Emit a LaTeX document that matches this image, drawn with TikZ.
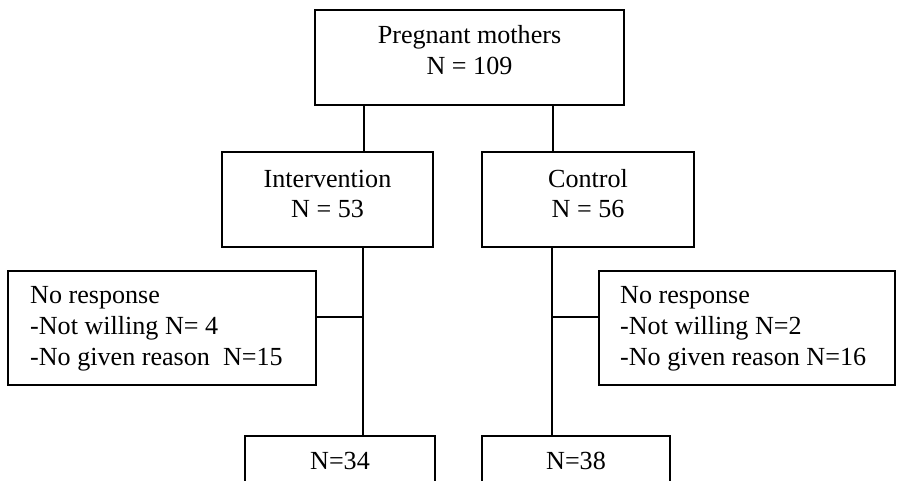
\documentclass[tikz,border=0pt]{standalone}
\usepackage{fontspec}
\setmainfont{Liberation Serif}
\begin{document}
\begin{tikzpicture}[x=1pt,y=-1pt,
  box/.style={draw, line width=2.6pt, rectangle, inner sep=0pt},
  lbl/.style={inner sep=0pt, font=\fontsize{26.1}{31}\selectfont},
  conn/.style={line width=2.6pt}]
\clip (0,0) rectangle (898,480);
% boxes
\node[box, minimum width=309pt, minimum height=95pt] (top) at (469.5,57.5) {};
\node[box, minimum width=211pt, minimum height=95pt] (inter) at (327.5,199.5) {};
\node[box, minimum width=212pt, minimum height=95pt] (ctrl) at (588,199.5) {};
\node[box, minimum width=308pt, minimum height=114pt] (nrl) at (162,328) {};
\node[box, minimum width=296pt, minimum height=114pt] (nrr) at (747,328) {};
\node[box, minimum width=190pt, minimum height=90pt] (botl) at (340,481) {};
\node[box, minimum width=188pt, minimum height=90pt] (botr) at (576,481) {};
% texts
\node[lbl, anchor=base] (t1) at (469.5,43) {Pregnant mothers};
\node[lbl, anchor=base] (t2) at (469.5,74) {N = 109};
\node[lbl, anchor=base] (i1) at (327.5,187) {Intervention};
\node[lbl, anchor=base] (i2) at (327.5,217) {N = 53};
\node[lbl, anchor=base] (c1) at (588,187) {Control};
\node[lbl, anchor=base] (c2) at (588,217) {N = 56};
\node[lbl, anchor=base west] (l1) at (30,303) {No response};
\node[lbl, anchor=base west] (l2) at (30,334) {-Not willing N= 4};
\node[lbl, anchor=base west] (l3) at (30,365) {-No given reason\ \ N=15};
\node[lbl, anchor=base west] (r1) at (620,303) {No response};
\node[lbl, anchor=base west] (r2) at (620,334) {-Not willing N=2};
\node[lbl, anchor=base west] (r3) at (620,365) {-No given reason N=16};
\node[lbl, anchor=base] (b1) at (340,469) {N=34};
\node[lbl, anchor=base] (b2) at (576,469) {N=38};
% connectors
\coordinate (cx1) at (364,0);
\coordinate (cx2) at (553,0);
\coordinate (cx3) at (363,0);
\coordinate (cx4) at (552,0);
\coordinate (cy) at (0,317);
\draw[conn] (top.south -| cx1) -- (inter.north -| cx1);
\draw[conn] (top.south -| cx2) -- (ctrl.north -| cx2);
\draw[conn] (inter.south -| cx3) -- (botl.north -| cx3);
\draw[conn] (ctrl.south -| cx4) -- (botr.north -| cx4);
\draw[conn] (nrl.east |- cy) -- (cx3 |- cy);
\draw[conn] (nrr.west |- cy) -- (cx4 |- cy);
\end{tikzpicture}
\end{document}
